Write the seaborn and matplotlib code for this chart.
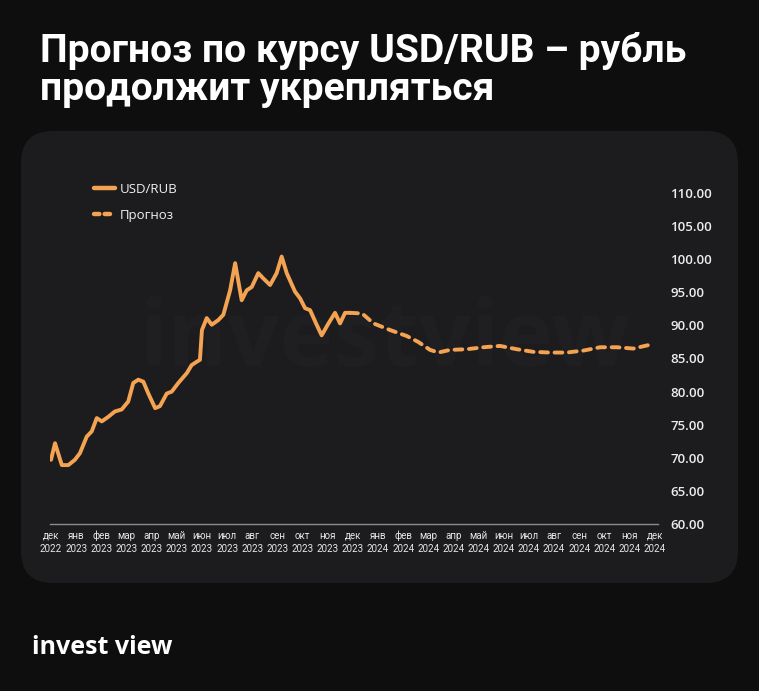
import matplotlib
matplotlib.use("Agg")
import matplotlib.pyplot as plt
from matplotlib.patches import FancyBboxPatch
from matplotlib.lines import Line2D
import seaborn as sns
import pandas as pd

# ---- data ----
month_labels = ["дек\n2022", "янв\n2023", "фев\n2023", "мар\n2023", "апр\n2023", "май\n2023",
                "июн\n2023", "июл\n2023", "авг\n2023", "сен\n2023", "окт\n2023", "ноя\n2023",
                "дек\n2023", "янв\n2024", "фев\n2024", "мар\n2024", "апр\n2024", "май\n2024",
                "июн\n2024", "июл\n2024", "авг\n2024", "сен\n2024", "окт\n2024", "ноя\n2024",
                "дек\n2024"]
# time in months since Dec 2022
hist_t = [0.00, 0.16, 0.43, 0.69, 0.95, 1.15, 1.42, 1.62, 1.82, 2.02, 2.28, 2.54, 2.81,
          3.07, 3.27, 3.47, 3.67, 3.87, 4.14, 4.33, 4.60, 4.80, 5.06, 5.40, 5.59, 5.79,
          5.92, 6.00, 6.19, 6.39, 6.65, 6.85, 7.12, 7.32, 7.58, 7.78, 7.98, 8.24, 8.44,
          8.71, 8.97, 9.17, 9.37, 9.70, 9.90, 10.10, 10.30, 10.56, 10.76, 11.03, 11.29,
          11.49, 11.69, 11.89]
hist_v = [69.7, 72.2, 68.9, 68.9, 69.7, 70.7, 73.2, 74.0, 76.0, 75.5, 76.2, 77.0, 77.3,
          78.5, 81.3, 81.8, 81.5, 79.7, 77.5, 77.8, 79.7, 80.0, 81.3, 82.8, 84.0, 84.5,
          84.8, 89.3, 91.1, 90.1, 90.8, 91.6, 95.3, 99.4, 93.8, 95.3, 95.8, 97.9, 97.1,
          96.1, 97.9, 100.4, 97.9, 95.1, 94.1, 92.6, 92.3, 90.1, 88.5, 90.3, 91.9,
          90.3, 91.9, 91.9]
fc_t = [11.89, 12.37, 12.82, 13.48, 14.14, 14.60, 15.07, 15.40, 15.86, 16.53, 17.19,
        17.85, 18.52, 19.18, 19.84, 20.50, 21.17, 21.83, 22.49, 23.15, 23.95]
fc_v = [91.9, 91.8, 90.3, 89.3, 88.4, 87.5, 86.3, 85.9, 86.3, 86.4, 86.7,
        86.9, 86.4, 86.0, 85.9, 85.9, 86.2, 86.7, 86.7, 86.5, 87.2]
y_ticks = [60, 65, 70, 75, 80, 85, 90, 95, 100, 105, 110]

hist = pd.DataFrame({"t": hist_t, "v": hist_v})
fc = pd.DataFrame({"t": fc_t, "v": fc_v})

ORANGE = "#F4A352"
W, H = 759, 691
fig = plt.figure(figsize=(W / 100, H / 100), dpi=100, facecolor="#0e0e0e")

# rounded panel
panel = FancyBboxPatch((21 / 100, (H - 583) / 100), (738 - 21) / 100, (583 - 131) / 100,
                       boxstyle="round,pad=0,rounding_size=0.32",
                       transform=fig.dpi_scale_trans, facecolor="#1c1c1e",
                       edgecolor="none", zorder=-2)
fig.patches.append(panel)

# watermark
fig.text(385 / W, 1 - 342 / H, "investview", color="#1f1f21", fontsize=66,
         fontweight="bold", family="Open Sans", ha="center", va="center", zorder=-1)

ax = fig.add_axes([50 / W, (H - 524) / H, 608 / W, 331 / H])
ax.set_zorder(1)
ax.set_facecolor("none")

sns.lineplot(data=hist, x="t", y="v", ax=ax, color=ORANGE, linewidth=2.8,
             label="USD/RUB", solid_capstyle="round", solid_joinstyle="round")
sns.lineplot(data=fc, x="t", y="v", ax=ax, color=ORANGE, linewidth=2.8,
             label="Прогноз", dashes=False)
fc_line = ax.lines[-1]
fc_line.set_dashes([2.0, 1.7])
fc_line.set_dash_capstyle("round")

ax.set_xlim(-0.04, 24.13)
ax.set_ylim(60, 110)
ax.set_xlabel("")
ax.set_ylabel("")

ax.set_xticks(range(len(month_labels)))
ax.set_xticklabels(month_labels, fontsize=7, color="#e6e6e6", family="Roboto",
                   linespacing=1.35)
ax.yaxis.tick_right()
ax.set_yticks(y_ticks)
ax.set_yticklabels([f"{v:.2f}" for v in y_ticks], fontsize=9.5, color="#ececec",
                   family="Open Sans", fontweight="semibold")
ax.tick_params(axis="both", length=0)
ax.tick_params(axis="y", pad=9)
ax.tick_params(axis="x", pad=5)

for s in ["top", "left", "right"]:
    ax.spines[s].set_visible(False)
ax.spines["bottom"].set_color("#8c8c8c")
ax.spines["bottom"].set_linewidth(1.0)
ax.grid(False)

h1 = Line2D([], [], color=ORANGE, lw=3.2, solid_capstyle="round")
h2 = Line2D([], [], color=ORANGE, lw=3.2, dashes=[1.2, 1.2], dash_capstyle="round")
leg = ax.legend([h1, h2], ["USD/RUB", "Прогноз"], loc="upper left",
                bbox_to_anchor=(82 / W, 1 - 171 / H), bbox_transform=fig.transFigure,
                frameon=False, handlelength=1.6, handletextpad=0.35, labelspacing=1.0,
                prop={"family": "Open Sans", "size": 9.5})
for t in leg.get_texts():
    t.set_color("#f0f0f0")

# title
title = fig.text(40 / W, 1 - 62 / H, "Прогноз по курсу USD/RUB – рубль",
                 color="white", fontsize=27, fontweight="bold", family="Roboto",
                 ha="left", va="baseline")
title2 = fig.text(40 / W, 1 - 100 / H, "продолжит укрепляться",
                  color="white", fontsize=27, fontweight="bold", family="Roboto",
                  ha="left", va="baseline")
fig.canvas.draw()
r = fig.canvas.get_renderer()
w = title.get_window_extent(r).width
scale = 646 / w
title.set_fontsize(27 * scale)
title2.set_fontsize(27 * scale)

# logo
fig.text(32 / W, 1 - 654 / H, "invest view", color="white", fontsize=18,
         fontweight="bold", family="Open Sans", ha="left", va="baseline")

fig.savefig("out.png", dpi=100, facecolor=fig.get_facecolor())
